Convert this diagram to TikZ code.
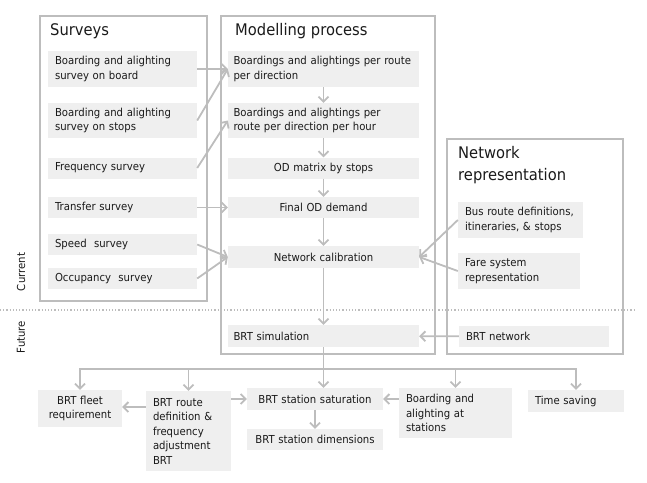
\documentclass[tikz,border=0pt]{standalone}
\usepackage{fontspec}
\setmainfont{DejaVu Sans}[FakeStretch=0.92]
\usetikzlibrary{arrows.meta,calc,positioning}

\definecolor{linegray}{HTML}{BDBDBD}
\definecolor{boxgray}{HTML}{EFEFEF}
\definecolor{inkgray}{HTML}{1A1A1A}

\begin{document}
\begin{tikzpicture}[
    x=1pt, y=-1pt,
    >={Straight Barb[length=5pt,width=10pt]},
    every node/.style={font=\fontsize{11}{14.5}\selectfont, text=inkgray},
    frame/.style={
        draw=linegray,
        line width=1.5pt
    },
    item/.style={
        fill=boxgray,
        inner xsep=7pt,
        inner ysep=0pt,
        align=left
    },
    survey/.style={item, text width=135pt},
    model/.style={item, inner xsep=5.5pt, text width=180pt},
    title/.style={
        font=\fontsize{16}{22}\selectfont,
        inner sep=0pt,
        anchor=north west,
        align=left
    },
    flow/.style={->, draw=linegray, line width=1.8pt},
    sep/.style={draw=linegray, line width=1.2pt, dotted}
]
\useasboundingbox (0,0) rectangle (647,482);

%------------------------------------------------
% Frames and titles
%------------------------------------------------
\draw[frame] (40,16)  rectangle (207,301);
\draw[frame] (221,16) rectangle (435,354);
\draw[frame] (447,139) rectangle (623,354);

\node[title] (tsurv) at (50,23)   {Surveys};
\node[title] (tmod)  at (235,23)  {Modelling process};
\node[title] (tnet)  at (458,146) {Network\\representation};

\draw[sep] (0,310) -- (636,310);
\node[rotate=90] (cur) at (21,272) {Current};
\node[rotate=90] (fut) at (21,337) {Future};

%------------------------------------------------
% Surveys
%------------------------------------------------
\node[survey, minimum height=36pt] (s1) at (122.5,69)    {Boarding and alighting\\survey on board};
\node[survey, minimum height=35pt] (s2) at (122.5,120.5) {Boarding and alighting\\survey on stops};
\node[survey, minimum height=21pt] (s3) at (122.5,168)   {Frequency survey};
\node[survey, minimum height=21pt] (s4) at (122.5,207.5) {Transfer survey};
\node[survey, minimum height=21pt] (s5) at (122.5,244.5) {Speed\ \ survey};
\node[survey, minimum height=21pt] (s6) at (122.5,278.5) {Occupancy\ \ survey};

%------------------------------------------------
% Modelling process
%------------------------------------------------
\node[model, minimum height=36pt] (m1) at (323.5,69)    {Boardings and alightings per route\\per direction};
\node[model, minimum height=35pt] (m2) at (323.5,120.5) {Boardings and alightings per\\route per direction per hour};
\node[model, align=center, minimum height=21pt] (m3) at (323.5,168)   {OD matrix by stops};
\node[model, align=center, minimum height=21pt] (m4) at (323.5,207.5) {Final OD demand};
\node[model, align=center, minimum height=22pt] (m5) at (323.5,257)   {Network calibration};
\node[model, minimum height=22pt] (sim) at (323.5,336) {BRT simulation};

%------------------------------------------------
% Network representation
%------------------------------------------------
\node[item, text width=111pt, minimum height=36pt] (n1) at (520.5,220) {Bus route definitions,\\itineraries, \& stops};
\node[item, text width=108pt, minimum height=36pt] (n2) at (519,271)   {Fare system\\representation};
\node[item, text width=136pt, minimum height=21pt] (nbrt) at (534,336.5) {BRT network};

%------------------------------------------------
% Outputs
%------------------------------------------------
\node[item, align=center, text width=70pt, minimum height=37pt] (b1) at (80,408.5)  {BRT fleet\\requirement};
\node[item, text width=71pt, minimum height=80pt] (b2) at (188.5,431) {BRT route\\definition \&\\frequency\\adjustment\\BRT};
\node[item, align=center, text width=122pt, minimum height=22pt] (b3) at (315,399)   {BRT station saturation};
\node[item, align=center, text width=122pt, minimum height=21pt] (b4) at (315,439.5) {BRT station dimensions};
\node[item, text width=99pt, minimum height=50pt] (b5) at (455.5,413) {Boarding and\\alighting at\\stations};
\node[item, text width=82pt, minimum height=22pt] (b6) at (576,401)  {Time saving};

\coordinate (bus) at (323.5,369);

%------------------------------------------------
% Arrows
%------------------------------------------------
\draw[flow] (s1.east) -- (m1.west);
\draw[flow] (s2.east) -- (m1.west);
\draw[flow] (s3.east) -- (m2.west);
\draw[flow] (s4.east) -- (m4.west);
\draw[flow] (s5.east) -- (m5.west);
\draw[flow] (s6.east) -- (m5.west);

\draw[flow] (m1) -- (m2);
\draw[flow] (m2) -- (m3);
\draw[flow] (m3) -- (m4);
\draw[flow] (m4) -- (m5);
\draw[flow] (m5) -- (sim);

\draw[flow] (n1.west) -- (m5.east);
\draw[flow] (n2.west) -- (m5.east);
\draw[flow] (nbrt) -- (sim);

\draw[flow] (sim.south) -- (b3.north -| bus);
\draw[flow] (bus) -| (b1.north);
\draw[flow] (bus) -| (b2.north);
\draw[flow] (bus) -| (b5.north);
\draw[flow] (bus) -| (b6.north);

\draw[flow] (b2.west |- 0,407) -- (b1.east |- 0,407);
\draw[flow] (b2.east |- b3) -- (b3);
\draw[flow] (b3) -- (b4);
\draw[flow] (b5.west |- b3) -- (b3);

\end{tikzpicture}
\end{document}
